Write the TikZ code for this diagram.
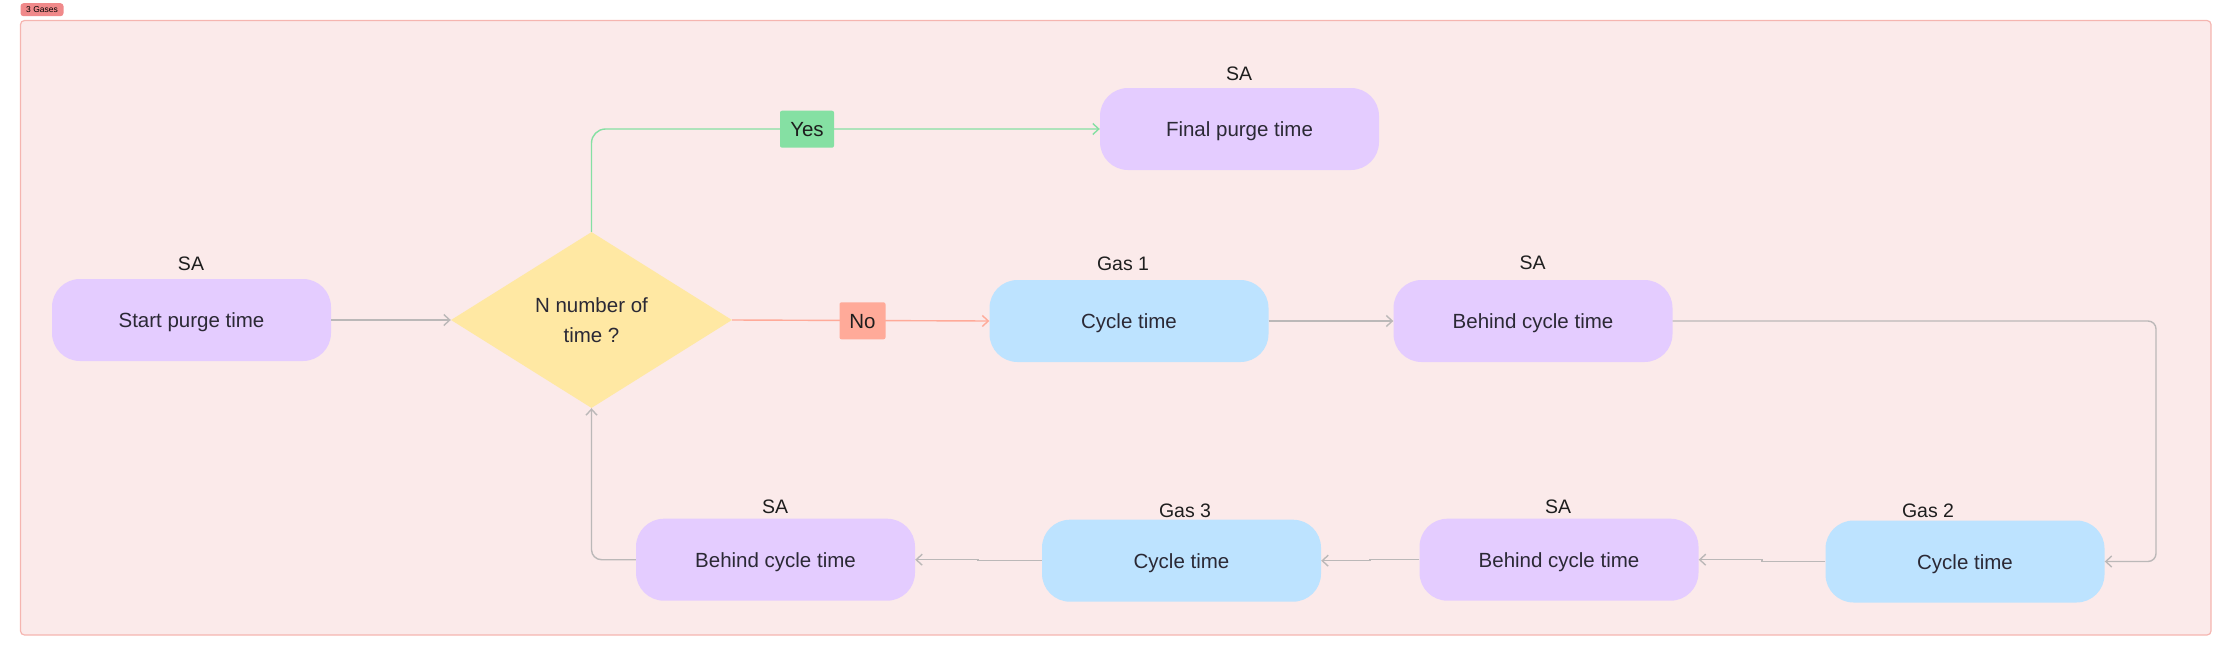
\documentclass[tikz,border=0pt]{standalone}
\usepackage{fontspec}
\setmainfont{Liberation Sans}
\usetikzlibrary{shapes.geometric,arrows.meta}
\definecolor{txt}{HTML}{2B2935}
\definecolor{lbl}{HTML}{1E1E1E}
\definecolor{purp}{HTML}{E4CCFF}
\definecolor{blu}{HTML}{BDE3FF}
\definecolor{yel}{HTML}{FFE8A3}
\definecolor{grn}{HTML}{85E0A3}
\definecolor{redl}{HTML}{FFAA99}
\definecolor{conngrey}{HTML}{BBB8B8}
\definecolor{framefill}{HTML}{FBEAEA}
\definecolor{frameline}{HTML}{F5B5B0}
\definecolor{tagfill}{HTML}{F0898A}
\begin{document}
\begin{tikzpicture}[x=1pt,y=-1pt,
  box/.style={rounded corners=28pt, minimum width=279pt, minimum height=82pt, inner sep=0pt,
    text height=15pt, text depth=0pt,
    font=\fontsize{20.5}{24}\selectfont, text=txt},
  pbox/.style={box, fill=purp},
  bbox/.style={box, fill=blu},
  lab/.style={font=\fontsize{19.5}{22}\selectfont, text=lbl, inner sep=0pt},
  conn/.style={draw=conngrey, line width=1.4pt, -{Straight Barb[length=6pt,width=11pt]}},
  choice/.style={rounded corners=2pt, minimum height=37pt, inner sep=0pt,
    text height=15pt, text depth=0pt,
    font=\fontsize{20.5}{24}\selectfont, text=lbl}
]
\useasboundingbox (0,0) rectangle (2232,656);
% container
\node[draw=frameline, fill=framefill, line width=1.2pt, rounded corners=4pt,
  minimum width=2190.5pt, minimum height=614.5pt, inner sep=0pt] (frame) at (1115.75,327.75) {};
\node[fill=tagfill, rounded corners=3pt, minimum width=43pt, minimum height=13pt, inner sep=0pt,
  font=\fontsize{8.5}{10}\selectfont, text=black] (tag) at (42,9.7) {3 Gases};

% nodes
\node[pbox] (start) at (191.5,320) {Start purge time};
\node[diamond, fill=yel, minimum width=281pt, minimum height=176pt, inner sep=0pt, align=center,
  font=\fontsize{20.5}{30}\selectfont, text=txt] (dec) at (591.5,320) {N number of\\time ?};
\node[pbox] (final) at (1239.5,129) {Final purge time};
\node[bbox] (gas1) at (1129,321) {Cycle time};
\node[pbox] (beh1) at (1533,321) {Behind cycle time};
\node[bbox] (gas2) at (1965,561.5) {Cycle time};
\node[pbox] (beh2) at (1559,559.7) {Behind cycle time};
\node[bbox] (gas3) at (1181.5,560.7) {Cycle time};
\node[pbox] (beh3) at (775.5,559.7) {Behind cycle time};

% labels above
\node[lab] (l0) at (191,264) {SA};
\node[lab] (l1) at (1239,74) {SA};
\node[lab] (l2) at (1123,264) {Gas 1};
\node[lab] (l3) at (1532.5,263) {SA};
\node[lab] (l4) at (1928,511) {Gas 2};
\node[lab] (l5) at (1558,507) {SA};
\node[lab] (l6) at (1185,511) {Gas 3};
\node[lab] (l7) at (775,507) {SA};

% connectors
\draw[conn] (start.east) -- (dec.west);
\draw[conn, draw=grn, rounded corners=14pt] (dec.north) |- (final.west);
\draw[conn, draw=redl] (dec.east) -- (gas1.west);
\draw[conn] (gas1.east) -- (beh1.west);
\draw[conn, rounded corners=8pt] (beh1.east) -- (2156,321) |- (gas2.east);
\draw[conn] (gas2.west) -- (1762,561.5) -- (1762,559.7) -- (beh2.east);
\draw[conn] (beh2.west) -- (1370,559.7) -- (1370,560.7) -- (gas3.east);
\draw[conn] (gas3.west) -- (978,560.7) -- (978,559.7) -- (beh3.east);
\draw[conn, rounded corners=10pt] (beh3.west) -| (dec.south);

% choice labels
\node[choice, fill=grn, minimum width=54pt] (yes) at (807,129.2) {Yes};
\node[choice, fill=redl, minimum width=46pt] (no) at (862.5,320.8) {No};
\end{tikzpicture}
\end{document}
